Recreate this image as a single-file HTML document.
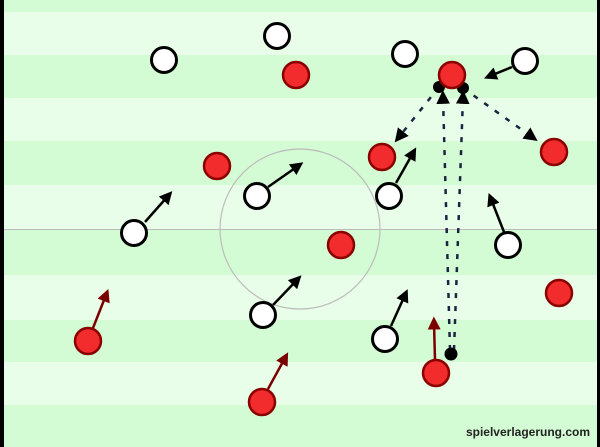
<!DOCTYPE html>
<html><head><style>html,body{margin:0;padding:0;background:#fff}svg{display:block}</style></head>
<body>
<svg width="600" height="447" viewBox="0 0 600 447" xmlns="http://www.w3.org/2000/svg">
<defs>
<marker id="ak" viewBox="0 0 10 10" refX="5" refY="5" markerWidth="5.2" markerHeight="5.2" orient="auto"><path d="M0,0 L10,5 L0,10 z" fill="#000"/></marker>
<marker id="ar" viewBox="0 0 10 10" refX="5" refY="5" markerWidth="5.2" markerHeight="5.2" orient="auto"><path d="M0,0 L10,5 L0,10 z" fill="#7a0000"/></marker>
<marker id="an" viewBox="0 0 10 10" refX="5" refY="5" markerWidth="5.5" markerHeight="5.5" orient="auto"><path d="M0,0 L10,5 L0,10 z" fill="#000"/></marker>
</defs>
<rect width="600" height="447" fill="#e8fee8"/>
<g fill="#d4fcd4">
<rect x="0" y="0" width="600" height="12"/>
<rect x="0" y="55" width="600" height="43"/>
<rect x="0" y="141" width="600" height="44"/>
<rect x="0" y="229" width="600" height="46"/>
<rect x="0" y="320" width="600" height="42"/>
<rect x="0" y="405" width="600" height="42"/>
</g>
<rect x="0" y="0" width="4" height="447" fill="#000"/>
<rect x="597" y="0" width="3" height="447" fill="#000"/>
<line x1="4" y1="229.5" x2="597" y2="229.5" stroke="#bbb" stroke-width="1"/>
<circle cx="300" cy="229" r="80" fill="none" stroke="#bbb" stroke-width="1.2"/>

<g stroke="#000" stroke-width="2.5" marker-end="url(#ak)">
<line x1="512" y1="67" x2="490" y2="76"/>
<line x1="268" y1="187" x2="298" y2="166"/>
<line x1="396" y1="183" x2="413" y2="153"/>
<line x1="145" y1="222" x2="168" y2="196"/>
<line x1="504" y1="232" x2="491" y2="199"/>
<line x1="273" y1="305" x2="297" y2="280"/>
<line x1="391" y1="326" x2="405" y2="295"/>
</g>
<g stroke="#7a0000" stroke-width="2.5" marker-end="url(#ar)">
<line x1="93" y1="328" x2="106" y2="295"/>
<line x1="268" y1="389" x2="285" y2="358"/>
<line x1="435" y1="360" x2="434" y2="323"/>
</g>
<g stroke="#1a2440" stroke-width="2.5" stroke-dasharray="5,8" fill="none">
<line x1="439" y1="87" x2="399" y2="137" marker-end="url(#an)"/>
<line x1="463" y1="88" x2="532" y2="137" marker-end="url(#an)"/>
<line x1="450" y1="350" x2="443" y2="97" marker-end="url(#an)"/>
<line x1="454" y1="350" x2="463" y2="97" marker-end="url(#an)"/>
</g>
<g fill="#000">
<circle cx="439" cy="87" r="6"/>
<circle cx="463" cy="88" r="6"/>
<circle cx="451" cy="354" r="6.5"/>
</g>
<g fill="#fff" stroke="#000" stroke-width="3">
<circle cx="164" cy="60" r="12.5"/>
<circle cx="277" cy="36" r="12.5"/>
<circle cx="405" cy="54" r="12.5"/>
<circle cx="525" cy="61" r="12.5"/>
<circle cx="257" cy="196" r="12.5"/>
<circle cx="389" cy="196" r="12.5"/>
<circle cx="134" cy="233" r="12.5"/>
<circle cx="508" cy="245" r="12.5"/>
<circle cx="263" cy="315" r="12.5"/>
<circle cx="385" cy="339" r="12.5"/>
</g>
<g fill="#f22c2c" stroke="#8a0000" stroke-width="2.5">
<circle cx="296" cy="75" r="13"/>
<circle cx="452" cy="75" r="13"/>
<circle cx="217" cy="166" r="13"/>
<circle cx="382" cy="157" r="13"/>
<circle cx="554" cy="152" r="13"/>
<circle cx="341" cy="245" r="13"/>
<circle cx="559" cy="293" r="13"/>
<circle cx="88" cy="341" r="13"/>
<circle cx="262" cy="402" r="13"/>
<circle cx="436" cy="373" r="13"/>
</g>
<text x="590" y="436" text-anchor="end" font-family="Liberation Sans, sans-serif" font-weight="bold" font-size="12" fill="#222">spielverlagerung.com</text>
</svg>
</body></html>
